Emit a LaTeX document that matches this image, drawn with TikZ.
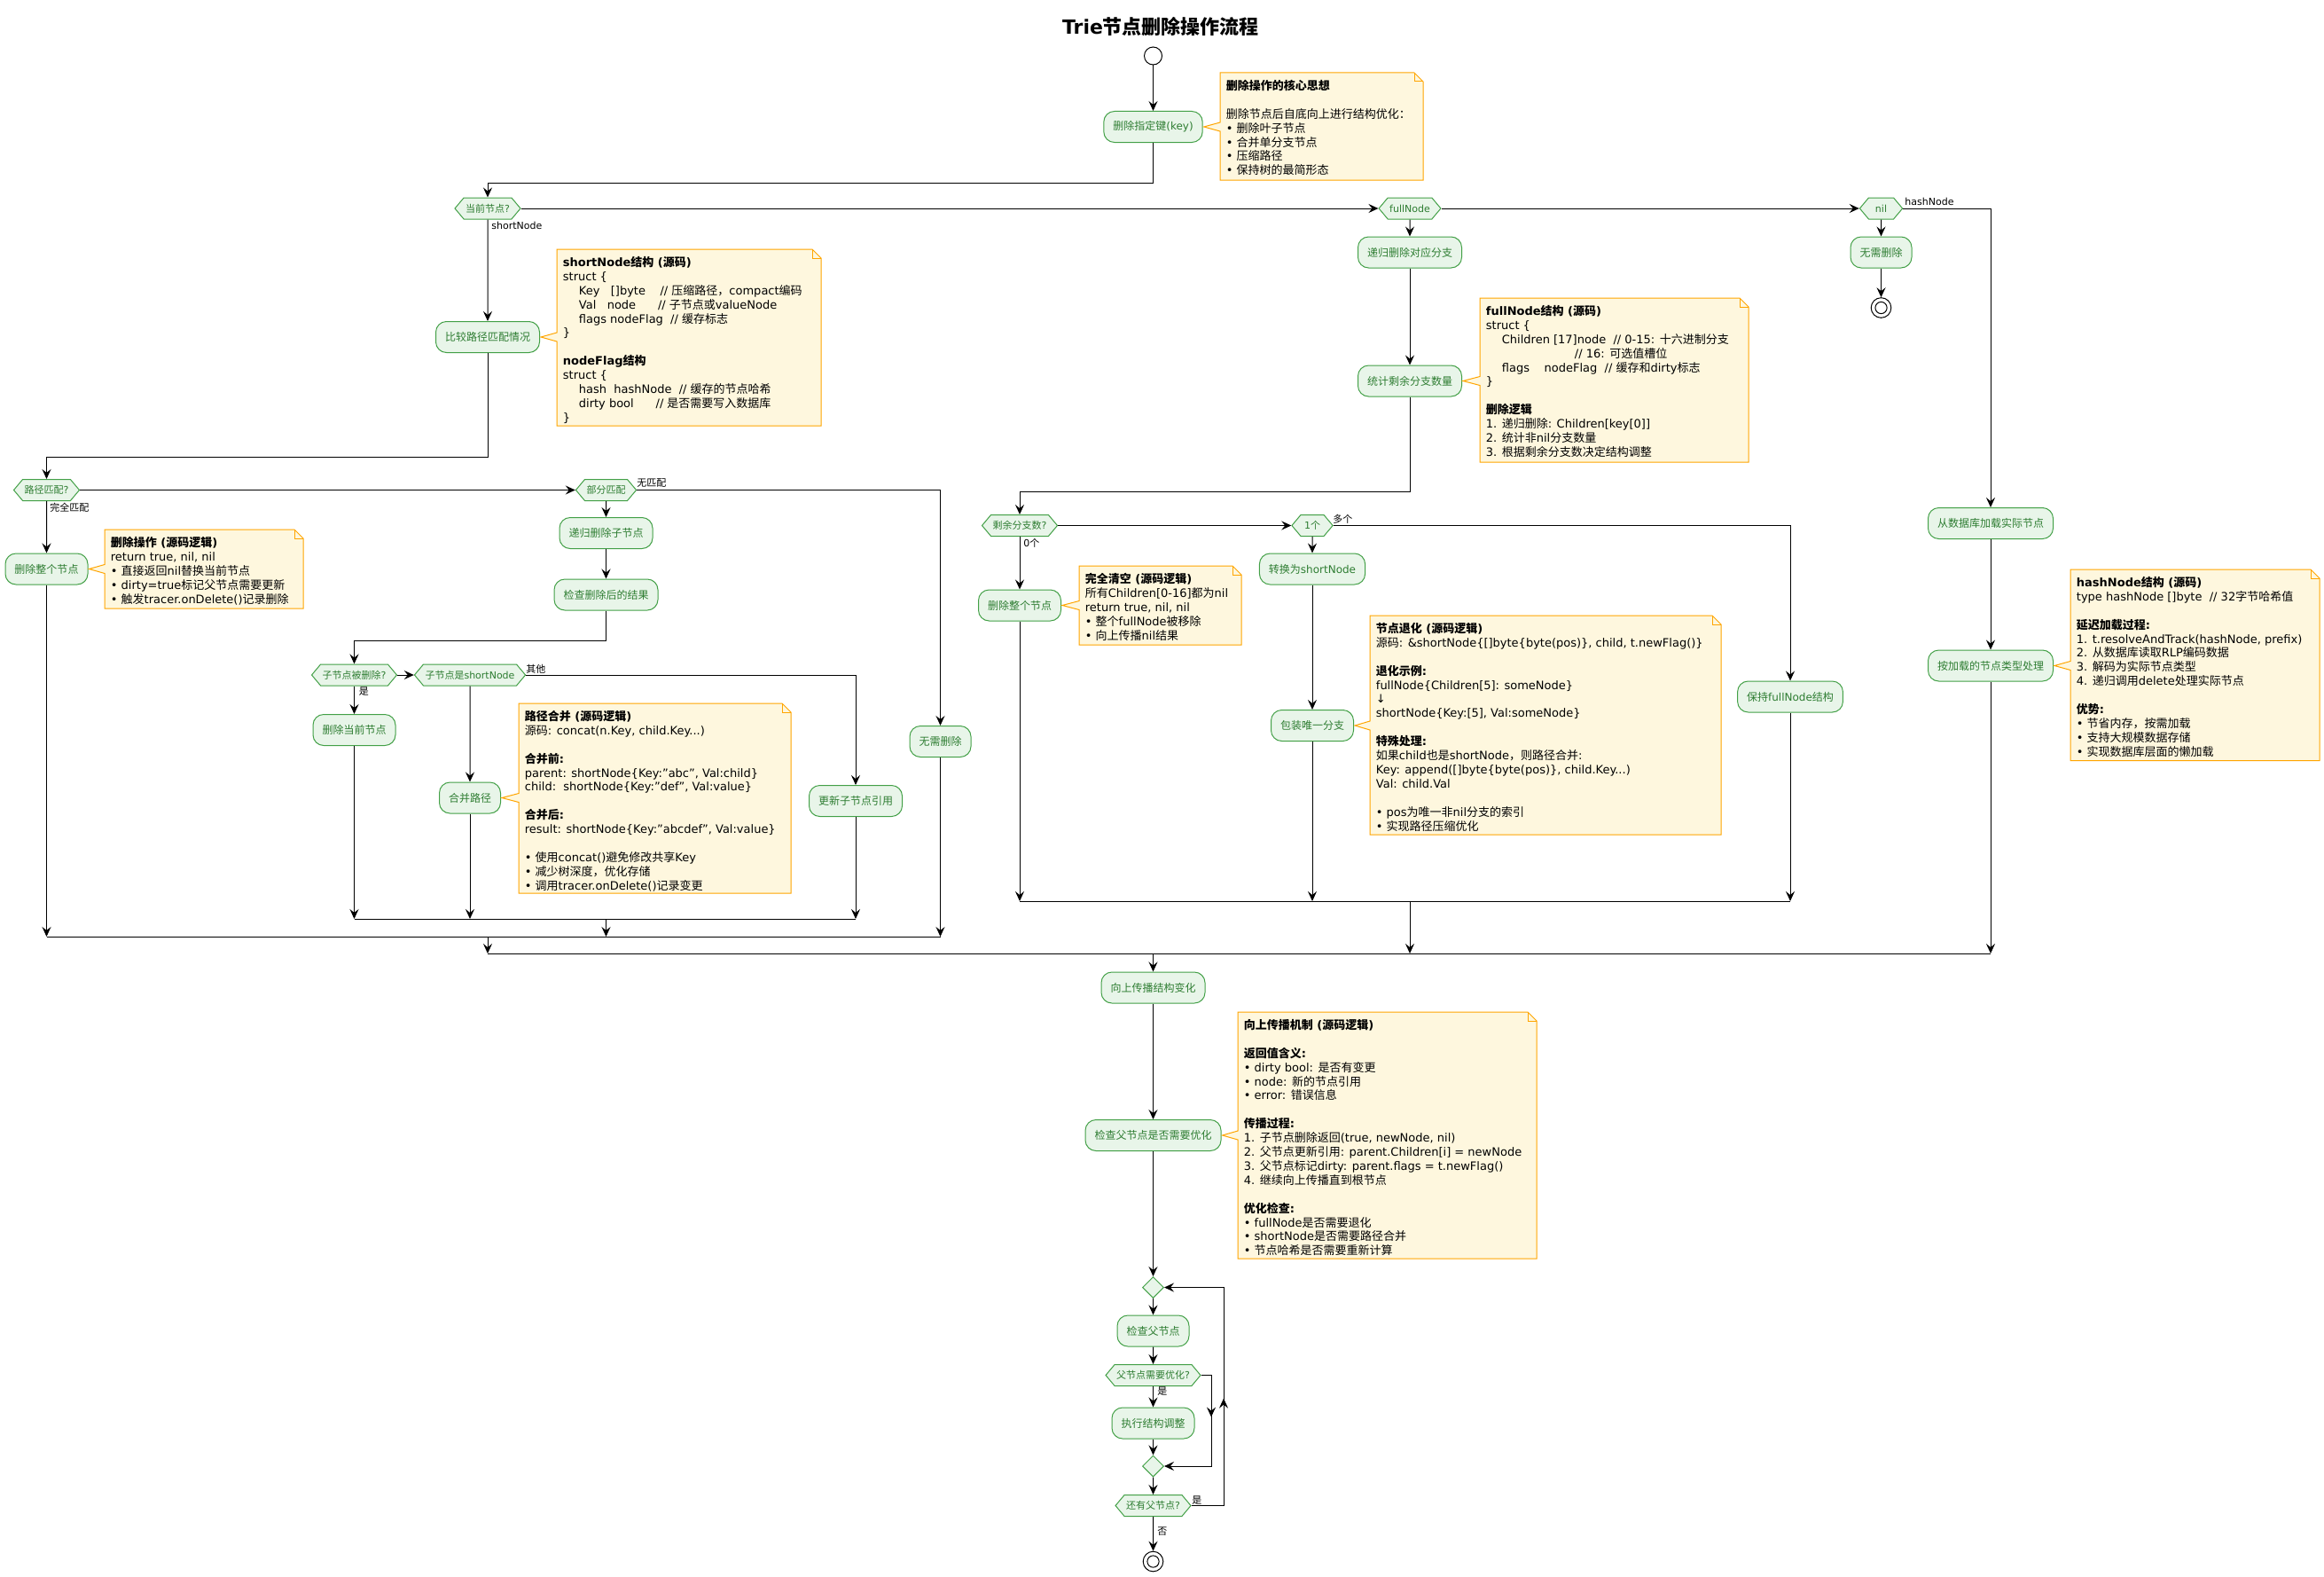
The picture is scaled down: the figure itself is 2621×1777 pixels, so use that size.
\documentclass[tikz,border=0pt]{standalone}
\usepackage{fontspec}
\setmainfont{DejaVu Sans}
\newfontfamily\cjkfont{Noto Sans CJK SC}
\usetikzlibrary{arrows.meta,shapes.geometric,shapes.symbols,calc,decorations.markings}

\XeTeXinterchartokenstate=1
\newXeTeXintercharclass\CJKcls
\makeatletter
\def\setcjkrange#1#2{\count@=#1\relax
  \loop\XeTeXcharclass\count@=\CJKcls\relax
  \ifnum\count@<#2\relax\advance\count@\@ne\repeat}
\setcjkrange{"3000}{"303F}
\setcjkrange{"4E00}{"9FFF}
\setcjkrange{"FF00}{"FFEF}
\makeatother
\XeTeXinterchartoks 0 \CJKcls = {\begingroup\cjkfont}
\XeTeXinterchartoks 4095 \CJKcls = {\begingroup\cjkfont}
\XeTeXinterchartoks \CJKcls 0 = {\endgroup}
\XeTeXinterchartoks \CJKcls 4095 = {\endgroup}

\definecolor{actfill}{RGB}{232,245,233}
\definecolor{actdraw}{RGB}{67,160,71}
\definecolor{acttext}{RGB}{46,125,50}
\definecolor{notefill}{RGB}{254,247,222}
\definecolor{notedraw}{RGB}{255,165,0}

\newcommand\codeind{\hspace*{9pt}}

\tikzset{
  >={Stealth[length=5.5pt,width=5pt,inset=2pt]},
  conn/.style={draw=black,line width=0.5pt,->},
  plainline/.style={draw=black,line width=0.5pt},
  midarrow/.style={postaction={decorate},decoration={markings,mark=at position #1 with {\arrow{>}}}},
  act/.style={rectangle,rounded corners=6pt,draw=actdraw,fill=actfill,text=acttext,line width=0.5pt,
    minimum height=17.5pt,inner xsep=5.25pt,inner ysep=0pt,font=\fontsize{6pt}{7pt}\selectfont},
  decnode/.style={signal,signal to=west and east,signal pointer angle=100,draw=actdraw,fill=actfill,
    text=acttext,line width=0.5pt,text height=8.1pt,text depth=3.9pt,inner xsep=1pt,inner ysep=0pt,
    font=\fontsize{5.5pt}{6.5pt}\selectfont},
  mergenode/.style={diamond,draw=actdraw,fill=actfill,line width=0.5pt,minimum width=12pt,minimum height=12pt,inner sep=0pt},
  startnode/.style={circle,draw=black,fill=white,line width=0.5pt,minimum size=10pt,inner sep=0pt},
  endnode/.style={circle,draw=black,fill=white,line width=0.5pt,minimum size=11.3pt,inner sep=0pt},
  lbl/.style={anchor=west,inner sep=0pt,font=\fontsize{5.5pt}{6.5pt}\selectfont,text=black},
  notebody/.style={fill=notefill,draw=notedraw,line width=0.5pt},
  notetext/.style={anchor=north west,inner sep=0pt,align=left,font=\fontsize{6.5pt}{7.95pt}\selectfont,text=black},
}

\newcommand\notebox[7]{%
  \coordinate (#1tip) at ($(#6.east)+(1,0)$);
  \coordinate (#1base) at (#1tip -| #2,#3);
  \filldraw[notebody] (#2,#3) -- (#4-10,#3) -- (#4,#3+10) -- (#4,#5) -- (#2,#5)
    -- ($(#1base)+(0,5)$) -- (#1tip) -- ($(#1base)+(0,-5)$) -- cycle;
  \draw[notebody,fill=none] (#4-10,#3) -- (#4-10,#3+10) -- (#4,#3+10);
  \node[notetext] (#1) at (#2+6.5,#3+7) {\rule{0pt}{6pt}#7};
}

\begin{document}
\begin{tikzpicture}[x=0.5pt,y=-0.5pt]
\useasboundingbox (0,0) rectangle (2621,1777);
\fill[white] (0,0) rectangle (2621,1777);

\node[font=\bfseries\fontsize{11pt}{13pt}\selectfont,inner sep=0pt] (title) at (1309,30) {Trie节点删除操作流程};

% main column top
\node[startnode] (start) at (1300.5,63) {};
\node[act] (adel) at (1300.5,143) {删除指定键(key)};
\node[decnode] (dcur) at (550,235) {当前节点?};
\node[decnode] (dfull) at (1590,235) {fullNode};
\node[decnode,inner xsep=3.75pt] (dnil) at (2121.5,235) {nil};

% nil branch
\node[act] (anone1) at (2121.5,284.5) {无需删除};
\node[endnode] (end1) at (2121.5,347) {};

% shortNode branch
\node[act] (acmp) at (550,380) {比较路径匹配情况};
\node[decnode] (dpath) at (52.5,552.5) {路径匹配?};
\node[decnode] (dpart) at (683.5,552.5) {部分匹配};
\node[act] (adelall1) at (52.5,641.5) {删除整个节点};
\node[act] (arecsub) at (683.5,601) {递归删除子节点};
\node[act] (achk) at (683.5,670.5) {检查删除后的结果};
\node[decnode] (dchilddel) at (399.5,761) {子节点被删除?};
\node[decnode] (dchildshort) at (530,761) {子节点是shortNode};
\node[act] (adelcur) at (399.5,823) {删除当前节点};
\node[act] (amerge) at (530,899.5) {合并路径};
\node[act] (aupd) at (965,903) {更新子节点引用};
\node[act] (anone2) at (1060.5,836) {无需删除};

% fullNode branch
\node[act] (arecbr) at (1590,284.5) {递归删除对应分支};
\node[act] (acnt) at (1590,429.5) {统计剩余分支数量};
\node[decnode] (drem) at (1150,592.5) {剩余分支数?};
\node[decnode,inner xsep=2pt] (done) at (1480,592.5) {1个};
\node[act] (adelall2) at (1150,682.5) {删除整个节点};
\node[act] (atoshort) at (1480,641.5) {转换为shortNode};
\node[act] (awrap) at (1480,818) {包装唯一分支};
\node[act] (akeep) at (2019,785.5) {保持fullNode结构};

% hashNode branch
\node[act] (aload) at (2245,590) {从数据库加载实际节点};
\node[act] (aproc) at (2245,750.5) {按加载的节点类型处理};

% bottom
\node[act] (aprop) at (1300.5,1113.5) {向上传播结构变化};
\node[act] (achkp) at (1300.5,1280) {检查父节点是否需要优化};
\node[mergenode] (m1) at (1300.5,1451.5) {};
\node[act] (achkpar) at (1300.5,1500.5) {检查父节点};
\node[decnode] (dneed) at (1300.5,1550.5) {父节点需要优化?};
\node[act] (aexec) at (1300.5,1604.5) {执行结构调整};
\node[mergenode] (m2) at (1300.5,1653) {};
\node[decnode] (dmore) at (1300.5,1697.5) {还有父节点?};
\node[endnode] (end2) at (1300.5,1760.5) {};

\draw[line width=0.5pt] (end1.center) circle[radius=3.3pt];
\draw[line width=0.5pt] (end2.center) circle[radius=3.3pt];

% bars
\coordinate (bar1) at (683.5,1036);
\coordinate (bar2) at (550,1056);
\coordinate (bar3) at (1300.5,1075);
\coordinate (bar4) at (1590,1016);

% labels
\node[lbl] (lshort) at (554,254) {shortNode};
\node[lbl] (lhash) at (2148,227.5) {hashNode};
\node[lbl] (lfull) at (56,572) {完全匹配};
\node[lbl] (lnomatch) at (718,545) {无匹配};
\node[lbl] (lyes1) at (404.5,780) {是};
\node[lbl] (lother) at (593,754) {其他};
\node[lbl] (lzero) at (1154,612) {0个};
\node[lbl] (lmany) at (1503,585) {多个};
\node[lbl] (lyes2) at (1305,1569) {是};
\node[lbl] (lyes3) at (1344,1692) {是};
\node[lbl] (lno) at (1305,1727) {否};

% notes
\notebox{n1}{1376}{82}{1605}{203}{adel}{%
\textbf{删除操作的核心思想}\\
\mbox{}\\
删除节点后自底向上进行结构优化：\\
• 删除叶子节点\\
• 合并单分支节点\\
• 压缩路径\\
• 保持树的最简形态}

\notebox{nshort}{628}{281}{926}{480}{acmp}{%
\textbf{shortNode结构 (源码)}\\
struct \{\\
\codeind Key~~~[]byte~~~~// 压缩路径，compact编码\\
\codeind Val~~~node~~~~~~// 子节点或valueNode\\
\codeind flags nodeFlag~~// 缓存标志\\
\}\\
\mbox{}\\
\textbf{nodeFlag结构}\\
struct \{\\
\codeind hash~~hashNode~~// 缓存的节点哈希\\
\codeind dirty bool~~~~~~// 是否需要写入数据库\\
\}}

\notebox{ndelop}{118}{597}{342}{686}{adelall1}{%
\textbf{删除操作 (源码逻辑)}\\
return true, nil, nil\\
• 直接返回nil替换当前节点\\
• dirty=true标记父节点需要更新\\
• 触发tracer.onDelete()记录删除}

\notebox{nmerge}{585}{793}{892}{1007}{amerge}{%
\textbf{路径合并 (源码逻辑)}\\
源码: concat(n.Key, child.Key...)\\
\mbox{}\\
\textbf{合并前:}\\
parent: shortNode\{Key:"abc", Val:child\}\\
child:~~shortNode\{Key:"def", Val:value\}\\
\mbox{}\\
\textbf{合并后:}\\
result: shortNode\{Key:"abcdef", Val:value\}\\
\mbox{}\\
• 使用concat()避免修改共享Key\\
• 减少树深度，优化存储\\
• 调用tracer.onDelete()记录变更}

\notebox{nfull}{1669}{336}{1972}{521}{acnt}{%
\textbf{fullNode结构 (源码)}\\
struct \{\\
\codeind Children [17]node~~// 0-15: 十六进制分支\\
\hspace*{50pt}// 16: 可选值槽位\\
\codeind flags~~~~nodeFlag~~// 缓存和dirty标志\\
\}\\
\mbox{}\\
\textbf{删除逻辑}\\
1. 递归删除: Children[key[0]]\\
2. 统计非nil分支数量\\
3. 根据剩余分支数决定结构调整}

\notebox{nclear}{1217}{638}{1400}{727}{adelall2}{%
\textbf{完全清空 (源码逻辑)}\\
所有Children[0-16]都为nil\\
return true, nil, nil\\
• 整个fullNode被移除\\
• 向上传播nil结果}

\notebox{ndegen}{1545}{694}{1941}{941}{awrap}{%
\textbf{节点退化 (源码逻辑)}\\
源码: \&shortNode\{[]byte\{byte(pos)\}, child, t.newFlag()\}\\
\mbox{}\\
\textbf{退化示例:}\\
fullNode\{Children[5]: someNode\}\\
↓\\
shortNode\{Key:[5], Val:someNode\}\\
\mbox{}\\
\textbf{特殊处理:}\\
如果child也是shortNode，则路径合并:\\
Key: append([]byte\{byte(pos)\}, child.Key...)\\
Val: child.Val\\
\mbox{}\\
• pos为唯一非nil分支的索引\\
• 实现路径压缩优化}

\notebox{nhash}{2335}{642}{2616}{857.5}{aproc}{%
\textbf{hashNode结构 (源码)}\\
type hashNode []byte~~// 32字节哈希值\\
\mbox{}\\
\textbf{延迟加载过程:}\\
1. t.resolveAndTrack(hashNode, prefix)\\
2. 从数据库读取RLP编码数据\\
3. 解码为实际节点类型\\
4. 递归调用delete处理实际节点\\
\mbox{}\\
\textbf{优势:}\\
• 节省内存，按需加载\\
• 支持大规模数据存储\\
• 实现数据库层面的懒加载}

\notebox{nprop}{1396}{1141}{1733}{1419}{achkp}{%
\textbf{向上传播机制 (源码逻辑)}\\
\mbox{}\\
\textbf{返回值含义:}\\
• dirty bool: 是否有变更\\
• node: 新的节点引用\\
• error: 错误信息\\
\mbox{}\\
\textbf{传播过程:}\\
1. 子节点删除返回(true, newNode, nil)\\
2. 父节点更新引用: parent.Children[i] = newNode\\
3. 父节点标记dirty: parent.flags = t.newFlag()\\
4. 继续向上传播直到根节点\\
\mbox{}\\
\textbf{优化检查:}\\
• fullNode是否需要退化\\
• shortNode是否需要路径合并\\
• 节点哈希是否需要重新计算}

% connectors: top
\draw[conn] (start) -- (adel);
\draw[conn] (adel.south) |- ($(dcur.north)+(0,-16)$) -- (dcur.north);
\draw[conn] (dcur.east) -- (dfull.west);
\draw[conn] (dfull.east) -- (dnil.west);
\draw[conn] (dnil.east) -| (aload.north);
\draw[conn] (dnil) -- (anone1);
\draw[conn] (anone1) -- (end1);

% shortNode branch
\draw[conn] (dcur) -- (acmp);
\draw[conn] (acmp.south) |- ($(dpath.north)+(0,-25)$) -- (dpath.north);
\draw[conn] (dpath.east) -- (dpart.west);
\draw[conn] (dpath) -- (adelall1);
\draw[conn] (dpart.east) -| (anone2.north);
\draw[conn] (dpart) -- (arecsub);
\draw[conn] (arecsub) -- (achk);
\draw[conn] (achk.south) |- ($(dchilddel.north)+(0,-26)$) -- (dchilddel.north);
\draw[conn] (dchilddel.east) -- (dchildshort.west);
\draw[conn] (dchilddel) -- (adelcur);
\draw[conn] (dchildshort) -- (amerge);
\draw[conn] (dchildshort.east) -| (aupd.north);
\draw[conn] (adelcur.south) -- (adelcur.south |- bar1);
\draw[conn] (amerge.south) -- (amerge.south |- bar1);
\draw[conn] (aupd.south) -- (aupd.south |- bar1);
\draw[plainline] (adelcur.south |- bar1) -- (aupd.south |- bar1);
\draw[conn] (bar1) -- (bar1 |- bar2);
\draw[conn] (adelall1.south) -- (adelall1.south |- bar2);
\draw[conn] (anone2.south) -- (anone2.south |- bar2);
\draw[plainline] (adelall1.south |- bar2) -- (anone2.south |- bar2);
\draw[conn] (bar2) -- (bar2 |- bar3);

% fullNode branch
\draw[conn] (dfull) -- (arecbr);
\draw[conn] (arecbr) -- (acnt);
\draw[conn] (acnt.south) |- ($(drem.north)+(0,-25.5)$) -- (drem.north);
\draw[conn] (drem.east) -- (done.west);
\draw[conn] (drem) -- (adelall2);
\draw[conn] (done) -- (atoshort);
\draw[conn] (atoshort) -- (awrap);
\draw[conn] (done.east) -| (akeep.north);
\draw[conn] (adelall2.south) -- (adelall2.south |- bar4);
\draw[conn] (awrap.south) -- (awrap.south |- bar4);
\draw[conn] (akeep.south) -- (akeep.south |- bar4);
\draw[plainline] (adelall2.south |- bar4) -- (akeep.south |- bar4);
\draw[conn] (bar4) -- (bar4 |- bar3);

% hashNode branch
\draw[conn] (aload) -- (aproc);
\draw[conn] (aproc.south) -- (aproc.south |- bar3);
\draw[plainline] (bar2 |- bar3) -- (aproc.south |- bar3);

% bottom
\draw[conn] (bar3) -- (aprop.north);
\draw[conn] (aprop) -- (achkp);
\draw[conn] (achkp) -- (m1);
\draw[conn] (m1) -- (achkpar);
\draw[conn] (achkpar) -- (dneed);
\draw[conn] (dneed) -- (aexec);
\draw[conn] (aexec) -- (m2);
\draw[conn,midarrow=0.35] (dneed.east) -- (dneed.east -| 1366,0) |- (m2.east);
\draw[conn] (m2) -- (dmore);
\draw[conn,midarrow=0.45] (dmore.east) -- (dmore.east -| 1380,0) |- (m1.east);
\draw[conn] (dmore) -- (end2);
\end{tikzpicture}
\end{document}
